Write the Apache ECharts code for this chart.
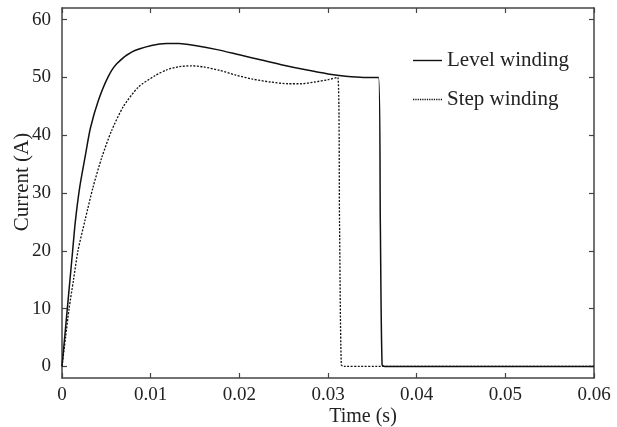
<!DOCTYPE html>
<html>
<head>
<meta charset="utf-8">
<script src="https://cdn.jsdelivr.net/npm/echarts@6/dist/echarts.min.js"></script>
<style>
html,body{margin:0;padding:0;background:#fff;}
#chart{width:617px;height:427px;}
</style>
</head>
<body>
<div id="chart"></div>
<script>
// Time (s), current (A)
const levelWinding = [
  [0, 0], [0.0003, 5], [0.0006, 10], [0.0009, 15], [0.0012, 20], [0.0015, 25],
  [0.0020, 31], [0.0026, 36.2], [0.0032, 41.2], [0.0041, 46], [0.0052, 50.1],
  [0.0062, 52.4], [0.0079, 54.4], [0.0101, 55.5], [0.0118, 55.85], [0.0132, 55.85],
  [0.0150, 55.5], [0.0175, 54.8], [0.0200, 53.9], [0.0225, 53.0], [0.0250, 52.1],
  [0.0275, 51.3], [0.0300, 50.6], [0.0320, 50.2], [0.0340, 50.0], [0.0357, 50.0],
  [0.0359, 25], [0.0361, 0.3], [0.0364, 0], [0.06, 0]
];
const stepWinding = [
  [0, 0], [0.0004, 5], [0.0008, 10], [0.0013, 15], [0.0018, 20], [0.0026, 25.3],
  [0.0035, 31], [0.0045, 36.2], [0.0056, 40.8], [0.0069, 44.9], [0.0086, 48.3],
  [0.0105, 50.3], [0.0118, 51.3], [0.0132, 51.85], [0.0146, 52.0], [0.0160, 51.8],
  [0.0178, 51.2], [0.0196, 50.4], [0.0215, 49.7], [0.0235, 49.2], [0.0255, 48.9],
  [0.0270, 48.9], [0.0285, 49.2], [0.0300, 49.6], [0.0311, 50.0], [0.0313, 25],
  [0.0315, 0.3], [0.0318, 0], [0.06, 0]
];
const seriesNames = ['Level winding', 'Step winding'];
const yTickValues = [0, 10, 20, 30, 40, 50, 60];
const xTickValues = [0, 0.01, 0.02, 0.03, 0.04, 0.05, 0.06];
const xName = 'Time (s)';
const yName = 'Current (A)';

const font = 'Liberation Serif';
const textColor = '#222';
const axisColor = '#444';

// legend icons: a solid line and a dotted line
const solidIcon = 'path://M0,0H29V1.4H0Z';
let dotted = '';
for (let x = 0; x < 29; x += 2.4) { dotted += 'M' + x.toFixed(1) + ',0h1.3v1.4h-1.3Z'; }
const dottedIcon = 'path://' + dotted;

const chart = echarts.init(document.getElementById('chart'), null, {renderer: 'canvas'});
const baseX = {
  type: 'value', min: 0, max: 0.06,
  axisLine: {show: true, onZero: false, lineStyle: {color: axisColor, width: 1.5}},
  axisTick: {show: true, inside: true, length: 5, customValues: xTickValues, lineStyle: {color: axisColor, width: 1.2}},
  splitLine: {show: false}
};
const baseY = {
  type: 'value', min: -2, max: 62,
  axisLine: {show: true, onZero: false, lineStyle: {color: axisColor, width: 1.5}},
  axisTick: {show: true, inside: true, length: 5, customValues: yTickValues, lineStyle: {color: axisColor, width: 1.2}},
  splitLine: {show: false}
};
chart.setOption({
  animation: false,
  backgroundColor: '#fff',
  grid: {left: 62, right: 23, top: 8, bottom: 49, outerBoundsMode: 'none', containLabel: false},
  legend: {
    orient: 'vertical', left: 413, top: 50, padding: 0,
    itemWidth: 29, itemHeight: 2, itemGap: 18,
    data: [
      {name: seriesNames[0], icon: solidIcon, itemStyle: {color: '#111'}},
      {name: seriesNames[1], icon: dottedIcon, itemStyle: {color: '#111'}}
    ],
    textStyle: {fontFamily: font, fontSize: 21, lineHeight: 21, color: textColor}
  },
  xAxis: [
    Object.assign({}, baseX, {
      position: 'bottom',
      name: xName, nameLocation: 'middle', nameGap: 29, nameMoveOverlap: false,
      nameTextStyle: {fontFamily: font, fontSize: 20, color: textColor, padding: [0, 0, 0, 70]},
      axisLabel: {show: true, customValues: xTickValues, margin: 8, fontFamily: font, fontSize: 19, color: textColor,
        formatter: v => (v === 0 ? '0' : String(+v.toFixed(2)))}
    }),
    Object.assign({}, baseX, {position: 'top', axisLabel: {show: false}})
  ],
  yAxis: [
    Object.assign({}, baseY, {
      position: 'left',
      name: yName, nameLocation: 'middle', nameGap: 29, nameRotate: 90, nameMoveOverlap: false,
      nameTextStyle: {fontFamily: font, fontSize: 21, color: textColor, padding: [0, 0, 0, 22]},
      axisLabel: {show: true, customValues: yTickValues, margin: 11, fontFamily: font, fontSize: 19, color: textColor}
    }),
    Object.assign({}, baseY, {position: 'right', axisLabel: {show: false}})
  ],
  series: [
    {
      name: seriesNames[0], type: 'line', data: levelWinding, symbol: 'none',
      smooth: 0.25,
      lineStyle: {color: '#111', width: 1.5, type: 'solid'},
      itemStyle: {color: '#111'}, z: 3
    },
    {
      name: seriesNames[1], type: 'line', data: stepWinding, symbol: 'none',
      smooth: 0.25,
      lineStyle: {color: '#111', width: 1.3, type: [2, 1.5]},
      itemStyle: {color: '#111'}, z: 2
    }
  ]
});
</script>
</body>
</html>
